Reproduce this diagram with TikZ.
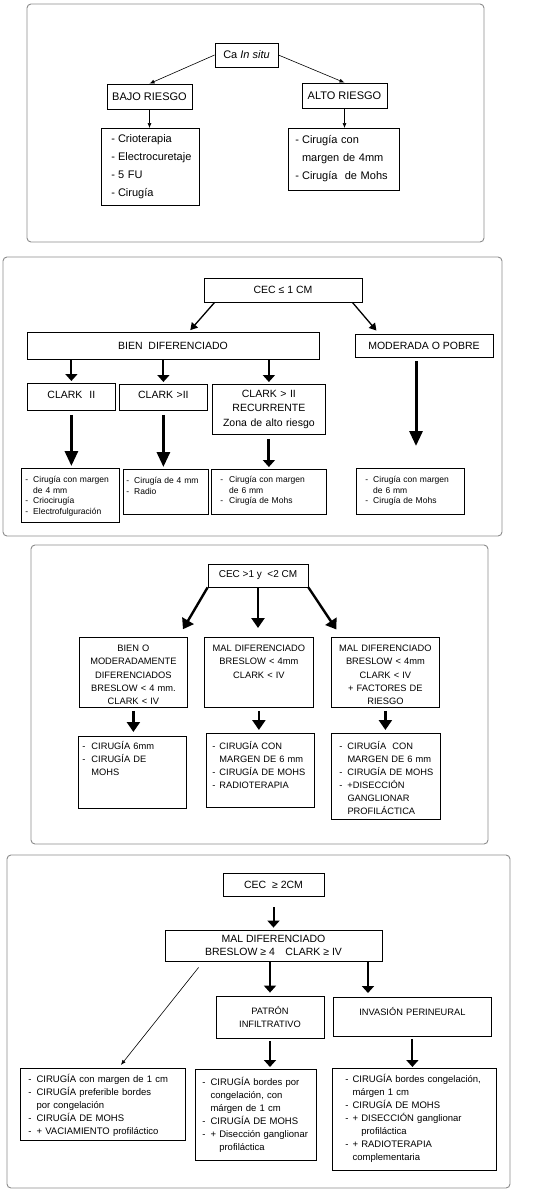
\documentclass[tikz,border=0pt]{standalone}
\usepackage{fontspec}
\setmainfont{Liberation Sans}
\usetikzlibrary{calc}
\usetikzlibrary{arrows.meta}
\newcommand{\lista}[3]{\begin{tabular}[t]{@{\hspace{#1}}l@{\hspace{#2}}l@{}}#3\end{tabular}}
\begin{document}
\begin{tikzpicture}[x=1pt,y=-1pt,
        marco/.style={draw=black!45,line width=0.9pt,rounded corners=4pt},
        hd/.style={draw=black,line width=0.8pt,inner sep=0pt,align=center},
        lst/.style={draw=black,line width=0.8pt,inner sep=0pt,anchor=north west,align=left},
        fina/.style={line width=0.6pt,-{Latex[length=5pt,width=4pt]}},
        media/.style={line width=1.3pt,-{Triangle[length=7pt,width=8pt]}},
        gruesa/.style={line width=2pt,-{Triangle[length=7pt,width=12pt]}},
        grande/.style={line width=3pt,-{Triangle[length=15pt,width=13pt]}},
        tres/.style={line width=2.4pt,-{Triangle[length=10pt,width=13pt]}},
        fA/.style={font=\fontsize{11}{18}\selectfont},
        fB/.style={font=\fontsize{10.5}{13}\selectfont},
        fC/.style={font=\fontsize{10.5}{14.5}\selectfont},
        fD/.style={font=\fontsize{8.5}{10.7}\selectfont},
        fE/.style={font=\fontsize{10}{12}\selectfont},
        fF/.style={font=\fontsize{9.3}{13.3}\selectfont},
        fG/.style={font=\fontsize{9.3}{13}\selectfont},
        fH/.style={font=\fontsize{10.5}{13.7}\selectfont},
        fI/.style={font=\fontsize{9.5}{13}\selectfont}
      ]
      \useasboundingbox[fill=white] (0,0) rectangle (543,1202);

      \draw[marco] (27,4) rectangle (484,242);
      \node[hd,fA,minimum width=63pt,minimum height=24pt] (ca) at (246.5,55) {Ca \textit{In situ}};
      \node[hd,fA,minimum width=85pt,minimum height=25pt] (bajo) at (149.5,96.5) {BAJO RIESGO};
      \node[hd,fA,minimum width=85pt,minimum height=25pt] (alto) at (344.5,95.5) {ALTO RIESGO};
      \node[lst,fA,text width=98pt,text height=14pt,text depth=63pt] (tbajo) at (101,128) {\lista{10pt}{3pt}{- & Crioterapia\\ - & Electrocuretaje\\ - & 5 FU\\ - & Cirugía}};
      \node[lst,fA,text width=111pt,text height=15pt,text depth=47pt] (talto) at (288,128) {\lista{7pt}{3pt}{- & Cirugía con\\ & margen de 4mm\\ - & Cirugía\ \ de Mohs}};
      \draw[fina] (ca.west) -- (bajo.north);
      \draw[fina] (ca.east) -- (alto.north);
      \draw[fina] (bajo.south) -- (bajo.south |- tbajo.north);
      \draw[fina] (alto.south) -- (alto.south |- talto.north);

      \draw[marco] (3,257) rectangle (502,536);
      \node[hd,fB,minimum width=158pt,minimum height=24pt] (cec1) at (283,290) {CEC ≤ 1 CM};
      \node[hd,fB,minimum width=292pt,minimum height=27pt] (bien) at (173,345.5) {BIEN\ \ DIFERENCIADO};
      \node[hd,fB,minimum width=138pt,minimum height=23pt] (mod) at (424,345.5) {MODERADA O POBRE};
      \node[lst,fC,align=center,text width=88pt,text height=15pt,text depth=12pt] (clk1) at (27,383) {CLARK\ \ II};
      \node[lst,fC,align=center,text width=88pt,text height=14pt,text depth=12pt] (clk2) at (119,384) {CLARK >II};
      \node[lst,fC,align=center,text width=113pt,text height=13pt,text depth=37pt] (clk3) at (212,384) {CLARK > II\\RECURRENTE\\Zona de alto riesgo};
      \node[lst,fD,text width=98pt,text height=14pt,text depth=40pt] (tc1) at (21,468) {\lista{4pt}{5pt}{- & Cirugía con margen\\ & de 4 mm\\ - & Criocirugía\\ - & Electrofulguración}};
      \node[lst,fD,text width=85pt,text height=14pt,text depth=31pt] (tc2) at (123,469) {\lista{3pt}{5pt}{- & Cirugía de 4 mm\\ - & Radio}};
      \node[lst,fD,text width=115pt,text height=13pt,text depth=32pt] (tc3) at (211,469) {\lista{9pt}{6pt}{- & Cirugía con margen\\ & de 6 mm\\ - & Cirugía de Mohs}};
      \node[lst,fD,text width=108pt,text height=14pt,text depth=32pt] (tc4) at (356,468) {\lista{9pt}{5pt}{- & Cirugía con margen\\ & de 6 mm\\ - & Cirugía de Mohs}};
      \coordinate (modfin) at (416,446);
      \draw[media,shorten >=2pt] ([xshift=11pt]cec1.south west) -- ([xshift=16pt]bien.north);
      \draw[media,shorten >=4pt] ([xshift=-10pt]cec1.south east) -- ([xshift=-45pt]mod.north);
      \draw[gruesa,shorten >=2pt] (clk1.north |- bien.south) -- (clk1.north);
      \draw[gruesa,shorten >=2pt] (clk2.north |- bien.south) -- (clk2.north);
      \draw[gruesa,shorten >=2pt] (clk3.north |- bien.south) -- (clk3.north);
      \draw[grande,shorten <=4pt,shorten >=2pt] (clk1.south) -- (clk1.south |- tc1.north);
      \draw[grande,shorten <=4pt,shorten >=2pt] (clk2.south) -- (clk2.south |- tc2.north);
      \draw[gruesa,line width=3pt,shorten <=4pt,shorten >=2pt] (clk3.south) -- (clk3.south |- tc3.north);
      \draw[grande,shorten <=4pt] (modfin |- mod.south) -- (modfin);

      \draw[marco] (31,545) rectangle (488,844);
      \node[hd,fE,minimum width=100pt,minimum height=23pt] (cec2) at (258,575.5) {CEC >1 y\ \ <2 CM};
      \node[lst,fF,align=center,text width=108pt,text height=14pt,text depth=56pt] (bmod) at (79,637) {BIEN O\\MODERADAMENTE\\DIFERENCIADOS\\BRESLOW < 4 mm.\\CLARK < IV};
      \node[lst,fF,align=center,text width=109pt,text height=14pt,text depth=56pt] (mald) at (204,637) {MAL DIFERENCIADO\\BRESLOW < 4mm\\CLARK < IV};
      \node[lst,fF,align=center,text width=108pt,text height=14pt,text depth=56pt] (malf) at (331,637) {MAL DIFERENCIADO\\BRESLOW < 4mm\\CLARK < IV\\+ FACTORES DE\\RIESGO};
      \node[lst,fG,text width=108pt,text height=13pt,text depth=59pt] (tb1) at (78,736) {\lista{4pt}{6pt}{- & CIRUGÍA 6mm\\ - & CIRUGÍA DE\\ & MOHS}};
      \node[lst,fG,text width=108pt,text height=16pt,text depth=58pt] (tb2) at (206,733) {\lista{6pt}{4pt}{- & CIRUGÍA CON\\ & MARGEN DE 6 mm\\ - & CIRUGÍA DE MOHS\\ - & RADIOTERAPIA}};
      \node[lst,fG,text width=109pt,text height=16pt,text depth=70pt] (tb3) at (331,733) {\lista{8pt}{5pt}{- & CIRUGÍA\ \ CON\\ & MARGEN DE 6 mm\\ - & CIRUGÍA DE MOHS\\ - & +DISECCIÓN\\ & GANGLIONAR\\ & PROFILÁCTICA}};
      \draw[tres,shorten >=9pt] (cec2.south west) -- ([xshift=45pt]bmod.north);
      \draw[tres,shorten >=9pt] (cec2.south) -- (cec2.south |- mald.north);
      \draw[tres,shorten >=9pt] (cec2.south east) -- ([xshift=-44pt]malf.north);
      \draw[tres,shorten <=3pt,shorten >=4pt] (bmod.south) -- (bmod.south |- tb1.north);
      \draw[tres,shorten <=3pt,shorten >=3pt] (mald.south) -- (mald.south |- tb2.north);
      \draw[tres,shorten <=3pt,shorten >=3pt] (malf.south) -- (malf.south |- tb3.north);

      \draw[marco] (7,855) rectangle (510,1188);
      \node[hd,fB,minimum width=101pt,minimum height=23pt] (cec3) at (273.5,884.5) {CEC\ \ ≥ 2CM};
      \node[hd,fH,minimum width=217pt,minimum height=31pt] (mal) at (273.5,945.5) {MAL DIFERENCIADO\\BRESLOW ≥ 4\quad CLARK ≥ IV};
      \node[hd,fG,minimum width=108pt,minimum height=42pt] (pat) at (270,1017) {PATRÓN\\INFILTRATIVO};
      \node[lst,fG,align=center,text width=158pt,text height=18pt,text depth=21pt] (inv) at (333,997) {INVASIÓN PERINEURAL};
      \node[lst,fI,text width=165pt,text height=14pt,text depth=58pt] (tp1) at (20,1068) {\lista{8pt}{5pt}{- & CIRUGÍA con margen de 1 cm\\ - & CIRUGÍA preferible bordes\\ & por congelación\\ - & CIRUGÍA DE MOHS\\ - & + VACIAMIENTO profiláctico}};
      \node[lst,fI,text width=121pt,text height=16pt,text depth=75pt] (tp2) at (195,1069) {\lista{7pt}{5pt}{- & CIRUGÍA bordes por\\ & congelación, con\\ & márgen de 1 cm\\ - & CIRUGÍA DE MOHS\\ - & + Disección ganglionar\\ & \phantom{+ }profiláctica}};
      \node[lst,fI,text width=164pt,text height=14pt,text depth=88pt] (tp3) at (332,1068) {\lista{13pt}{4pt}{- & CIRUGÍA bordes congelación,\\ & márgen 1 cm\\ - & CIRUGÍA DE MOHS\\ - & + DISECCIÓN ganglionar\\ & \phantom{+ }profiláctica\\ - & + RADIOTERAPIA\\ & complementaria}};
      \coordinate (invin) at ([xshift=35pt]inv.north west);
      \draw[gruesa,shorten <=11pt,shorten >=2pt] (cec3.south) -- (mal.north);
      \draw[gruesa,shorten >=3pt] (pat.north |- mal.south) -- (pat.north);
      \draw[gruesa,shorten >=4pt] (invin |- mal.south) -- (invin);
      \draw[gruesa,shorten <=3pt,shorten >=2pt] (pat.south) -- (pat.south |- tp2.north);
      \draw[gruesa,shorten <=2pt,shorten >=1pt] (inv.south) -- (inv.south |- tp3.north);
      \draw[fina] ([xshift=34pt,yshift=-6pt]mal.south west) -- ([xshift=18pt,yshift=3pt]tp1.north);
    \end{tikzpicture}
\end{document}
